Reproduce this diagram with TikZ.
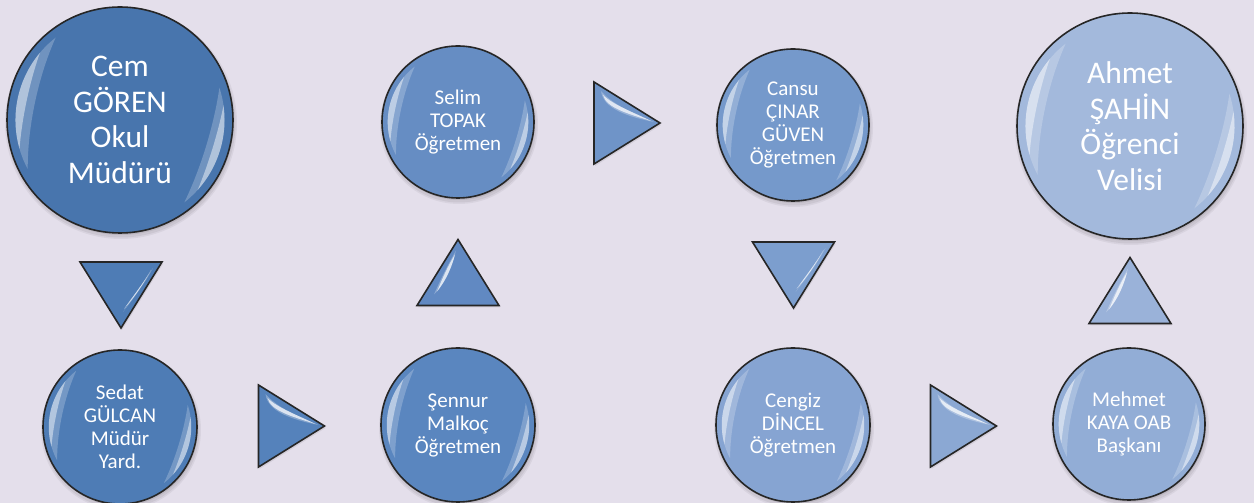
\documentclass[tikz,border=0pt]{standalone}
\usepackage{fontspec}
\setmainfont{Carlito}
\definecolor{bgcol}{HTML}{E4DFEB}
\definecolor{cA}{HTML}{4875AD}
\definecolor{cB}{HTML}{4E7CB5}
\definecolor{cD}{HTML}{5582BB}
\definecolor{cE}{HTML}{5A86BF}
\definecolor{cF}{HTML}{6189C2}
\definecolor{cG}{HTML}{668DC3}
\definecolor{cH}{HTML}{6F94C8}
\definecolor{cI}{HTML}{7599CB}
\definecolor{cJ}{HTML}{7C9ECE}
\definecolor{cK}{HTML}{86A4D2}
\definecolor{cL}{HTML}{8BA8D3}
\definecolor{cM}{HTML}{92ADD6}
\definecolor{cN}{HTML}{9AB2D9}
\definecolor{cO}{HTML}{A3B9DC}
\newcommand\shadowcirc[3]{%
  \fill[black,opacity=0.05] (#1+1,#2-3) circle[radius=#3+3];
  \fill[black,opacity=0.06] (#1+1,#2-3) circle[radius=#3+1.5];
  \fill[black,opacity=0.08] (#1+1,#2-2) circle[radius=#3];
}
% crescent highlight inside a circle node
\newcommand\crescent[6]{%
  \pgfmathsetmacro\crRa{0.925*#2}%
  \pgfmathsetmacro\crRb{0.925*#2-1.4*#5*#2}%
  \pgfmathsetmacro\crTa{#3+0.3*(#4-#3)}%
  \pgfmathsetmacro\crTb{#3+0.7*(#4-#3)}%
  \fill[white,opacity=#6] ([shift={(#3:\crRa pt)}]#1.center)
    arc[start angle=#3,end angle=#4,radius=\crRa pt]
    .. controls ([shift={(\crTb:\crRb pt)}]#1.center) and ([shift={(\crTa:\crRb pt)}]#1.center) .. cycle;
}
\newcommand\gloss[2]{%
  \crescent{#1}{#2}{128}{208}{0.075}{0.22}
  \crescent{#1}{#2}{140}{196}{0.04}{0.45}
  \crescent{#1}{#2}{-52}{18}{0.065}{0.22}
  \crescent{#1}{#2}{-42}{8}{0.035}{0.45}
}
\begin{document}
\begin{tikzpicture}[x=1pt,y=1pt]
\tikzset{
  person/.style={circle, draw=black!85, line width=1.6pt, text=white, align=center,
    inner sep=0pt, font=\fontsize{21}{23}\selectfont},
  bigtext/.style={font=\fontsize{31.5}{35.5}\selectfont},
  arrowtri/.style={draw=black!85, line width=1.6pt, line join=miter},
  shine/.style={white, opacity=0.7},
  shinesoft/.style={white, opacity=0.28},
}
\fill[bgcol] (0,0) rectangle (1254,503);
\useasboundingbox (0,0) rectangle (1254,503);

% shadows
\shadowcirc{120}{383}{113}
\shadowcirc{120}{76}{77}
\shadowcirc{458}{78}{77}
\shadowcirc{458}{381}{76}
\shadowcirc{793}{378}{76}
\shadowcirc{793}{78}{77}
\shadowcirc{1129}{79}{76}
\shadowcirc{1130}{377}{113}

% people
\node[person, bigtext, minimum size=226pt, fill=cA] (cem) at (120,383) {Cem\\GÖREN\\Okul\\Müdürü};
\node[person, minimum size=154pt, fill=cB] (sedat) at (120,76) {Sedat\\GÜLCAN\\Müdür\\Yard.};
\node[person, minimum size=154pt, fill=cE] (sennur) at (458,78) {Şennur\\Malkoç\\Öğretmen};
\node[person, minimum size=152pt, fill=cG] (selim) at (458,381) {Selim\\TOPAK\\Öğretmen};
\node[person, minimum size=152pt, fill=cI] (cansu) at (793,378) {Cansu\\ÇINAR\\GÜVEN\\Öğretmen};
\node[person, minimum size=154pt, fill=cK] (cengiz) at (793,78) {Cengiz\\DİNCEL\\Öğretmen};
\node[person, minimum size=152pt, fill=cM] (mehmet) at (1129,79) {Mehmet\\KAYA OAB\\Başkanı};
\node[person, bigtext, minimum size=226pt, fill=cO] (ahmet) at (1130,377) {Ahmet\\ŞAHİN\\Öğrenci\\Velisi};

\gloss{cem}{113}
\gloss{sedat}{77}
\gloss{sennur}{77}
\gloss{selim}{76}
\gloss{cansu}{76}
\gloss{cengiz}{77}
\gloss{mehmet}{76}
\gloss{ahmet}{113}

% arrow triangles
\coordinate (d1) at (121,208);
\coordinate (r1) at (291.5,77);
\coordinate (u2) at (458,230.5);
\coordinate (r2) at (627,380);
\coordinate (d3) at (793.5,228);
\coordinate (r4) at (963.5,77);
\coordinate (u5) at (1130,212.5);

% down triangles
\foreach \p/\c in {d1/cB, d3/cJ}{
  \begin{scope}[shift={(\p)}]
    \fill[black,opacity=0.08] (-40,31) -- (42,31) -- (1,-35) -- cycle;
    \draw[arrowtri, fill=\c] (-41,33) -- (41,33) -- (0,-33) -- cycle;
    \fill[shinesoft] (32,27) .. controls (22,12) and (12,-2) .. (2,-17) .. controls (12,-4) and (24,12) .. cycle;
    \fill[shine] (30,25) .. controls (22,11) and (12,-1) .. (3,-14) .. controls (13,-3) and (23,12) .. cycle;
  \end{scope}
}
% right triangles
\foreach \p/\c in {r1/cD, r2/cH, r4/cL}{
  \begin{scope}[shift={(\p)}]
    \fill[black,opacity=0.08] (-32,39) -- (34,-2) -- (-32,-43) -- cycle;
    \draw[arrowtri, fill=\c] (-33,41) -- (33,0) -- (-33,-41) -- cycle;
    \fill[shinesoft] (-26,32) .. controls (-24,14) and (2,6) .. (27,1) .. controls (6,10) and (-14,18) .. cycle;
    \fill[shine] (-24,28) .. controls (-21,15) and (2,9) .. (24,2) .. controls (6,11) and (-14,18) .. cycle;
  \end{scope}
}
% up triangles
\foreach \p/\c in {u2/cF, u5/cN}{
  \begin{scope}[shift={(\p)}]
    \fill[black,opacity=0.08] (-40,-35) -- (42,-35) -- (1,31) -- cycle;
    \draw[arrowtri, fill=\c] (-41,-33) -- (41,-33) -- (0,33) -- cycle;
    \fill[shinesoft] (-2,22) .. controls (-6,6) and (-12,-10) .. (-24,-22) .. controls (-18,-8) and (-10,8) .. cycle;
    \fill[shine] (-3,18) .. controls (-6,6) and (-12,-8) .. (-21,-19) .. controls (-16,-7) and (-10,7) .. cycle;
  \end{scope}
}
\end{tikzpicture}
\end{document}
